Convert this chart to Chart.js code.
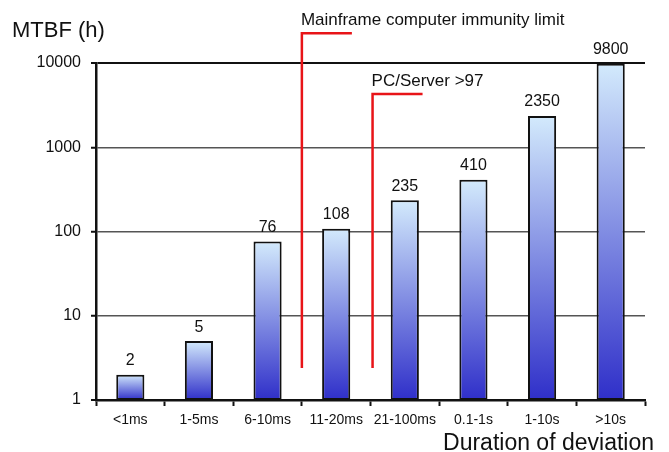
<!DOCTYPE html>
<html>
<head>
<meta charset="utf-8">
<script src="https://cdn.jsdelivr.net/npm/chart.js@4/dist/chart.umd.min.js"></script>
<style>
  html, body { margin: 0; padding: 0; background: #fff; }
  #wrap { width: 669px; height: 452px; position: relative; }
</style>
</head>
<body>
<div id="wrap"><canvas id="mtbfChart"></canvas></div>
<script>
const categories = ['<1ms', '1-5ms', '6-10ms', '11-20ms', '21-100ms', '0.1-1s', '1-10s', '>10s'];
const mtbfHours = [2, 5, 76, 108, 235, 410, 2350, 9800];
const yTicks = [1, 10, 100, 1000, 10000];

// limit markers: category boundary, bottom value, top value, label
const limitLabels = ['Mainframe computer immunity limit', 'PC/Server >97'];
const limitPositions = [2.5, 3.53];
const limitBottoms = [2.4, 2.4];
const limitTops = [22500, 4300];

const FONT = "'Liberation Sans', Arial, sans-serif";

const barGradient = (context) => {
  const chart = context.chart;
  const area = chart.chartArea;
  if (!area) return '#8fb0ee';
  const yScale = chart.scales.y;
  const top = yScale.getPixelForValue(context.raw);
  const g = chart.ctx.createLinearGradient(0, top, 0, area.bottom);
  g.addColorStop(0, '#d3eafc');
  g.addColorStop(1, '#2f2fc9');
  return g;
};

const extrasPlugin = {
  id: 'extras',
  afterDatasetsDraw(chart) {
    const ctx = chart.ctx;
    const meta = chart.getDatasetMeta(0);
    const xScale = chart.scales.x;
    const yScale = chart.scales.y;
    ctx.save();

    // values above bars
    ctx.fillStyle = '#111';
    ctx.font = '16px ' + FONT;
    ctx.textAlign = 'center';
    ctx.textBaseline = 'bottom';
    meta.data.forEach((bar, i) => {
      ctx.fillText(String(mtbfHours[i]), bar.x, bar.y - 6);
    });

    // red limit lines
    ctx.strokeStyle = '#e81418';
    ctx.lineWidth = 2.5;
    limitLabels.forEach((label, i) => {
      const x = xScale.getPixelForValue(limitPositions[i]);
      const yTop = yScale.getPixelForValue(limitTops[i]);
      const yBot = yScale.getPixelForValue(limitBottoms[i]);
      ctx.beginPath();
      ctx.moveTo(x, yBot);
      ctx.lineTo(x, yTop);
      ctx.lineTo(x + 50, yTop);
      ctx.stroke();
      ctx.fillStyle = '#111';
      ctx.font = '17px ' + FONT;
      ctx.textAlign = 'left';
      ctx.textBaseline = 'alphabetic';
      ctx.fillText(label, x - 1, yTop - 8);
    });

    // axis titles
    ctx.fillStyle = '#111';
    ctx.font = '22px ' + FONT;
    ctx.textAlign = 'left';
    ctx.textBaseline = 'alphabetic';
    ctx.fillText('MTBF (h)', 12, 37);
    ctx.font = '23px ' + FONT;
    ctx.textAlign = 'right';
    ctx.fillText('Duration of deviation', 654, 450);
    ctx.restore();
  }
};

new Chart(document.getElementById('mtbfChart').getContext('2d'), {
  type: 'bar',
  data: {
    labels: categories,
    datasets: [{
      data: mtbfHours,
      backgroundColor: barGradient,
      borderColor: '#111',
      borderWidth: 2,
      borderSkipped: false,
      barPercentage: 0.41,
      categoryPercentage: 1
    }]
  },
  options: {
    responsive: true,
    maintainAspectRatio: false,
    animation: false,
    layout: { padding: { top: 63, right: 24, left: 0, bottom: 0 } },
    plugins: {
      legend: { display: false },
      tooltip: { enabled: false }
    },
    scales: {
      x: {
        grid: {
          offset: true,
          drawOnChartArea: false,
          drawTicks: true,
          tickLength: 6,
          tickColor: '#111',
          tickWidth: 2
        },
        border: { color: '#111', width: 2.5 },
        ticks: { color: '#111', font: { family: FONT, size: 14 }, padding: 6, maxRotation: 0, autoSkip: false },
        afterFit(scale) { scale.height = 52; }
      },
      y: {
        type: 'logarithmic',
        min: 1,
        max: 10000,
        afterBuildTicks(scale) { scale.ticks = yTicks.map(v => ({ value: v })); },
        grid: {
          color: (c) => c.tick && c.tick.value === 10000 ? '#111' : '#555',
          lineWidth: (c) => c.tick && (c.tick.value === 10000 || c.tick.value === 1) ? 2 : 1.5,
          tickLength: 5,
          tickColor: '#111',
          tickWidth: 2
        },
        border: { color: '#111', width: 2.5 },
        ticks: {
          color: '#111',
          font: { family: FONT, size: 16 },
          padding: 10,
          callback: (v) => String(v)
        },
        afterFit(scale) { scale.width = 96; }
      }
    }
  },
  plugins: [extrasPlugin]
});
</script>
</body>
</html>
